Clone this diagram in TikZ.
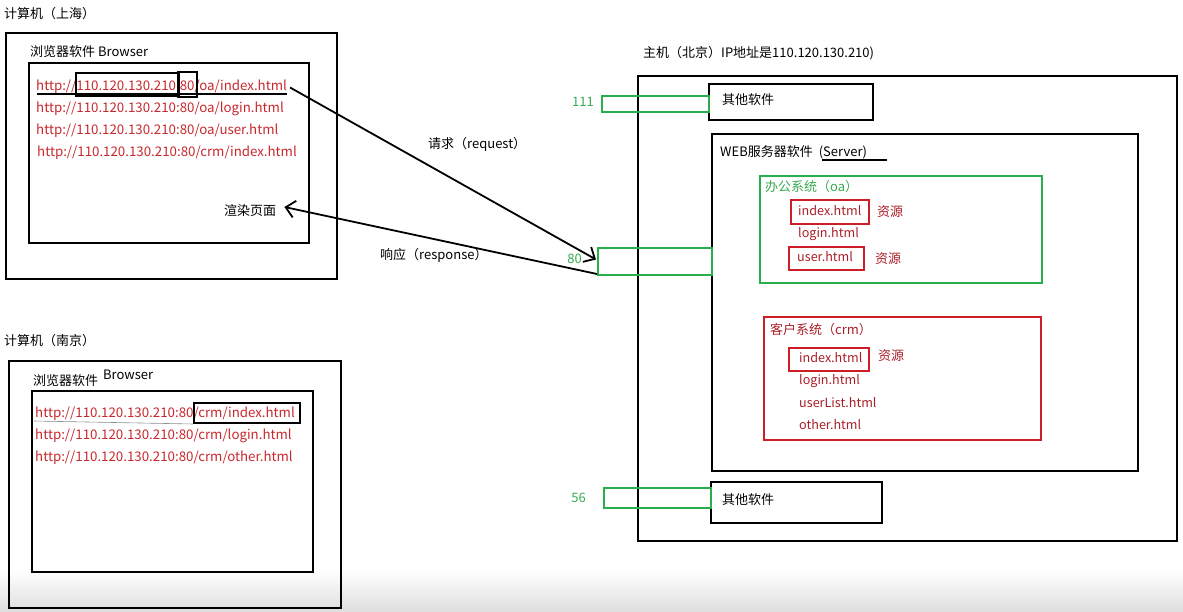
\documentclass[tikz,border=0pt]{standalone}
\usepackage{fontspec}
\setmainfont{Noto Sans CJK SC}
\usetikzlibrary{arrows.meta,calc}
\definecolor{urlred}{RGB}{200,40,45}
\definecolor{fred}{RGB}{170,30,40}
\definecolor{boxred}{RGB}{205,30,40}
\definecolor{pgreen}{RGB}{40,175,75}
\definecolor{tgreen}{RGB}{55,170,80}
\begin{document}
\begin{tikzpicture}[x=1pt,y=-1pt,
  box/.style={draw=black, line width=2pt, anchor=north west, inner sep=0pt},
  gbox/.style={box, draw=pgreen},
  rbox/.style={box, draw=boxred},
  lbl/.style={anchor=west, inner sep=0pt, font=\fontsize{13}{15}\selectfont, text=black},
  url/.style={lbl, font=\fontsize{13.3}{15}\selectfont, text=urlred, yshift=-1.5pt},
  file/.style={lbl, font=\fontsize{12.6}{15}\selectfont, text=fred},
  glbl/.style={lbl, text=tgreen},
  rlbl/.style={lbl, text=fred},
  port/.style={lbl, anchor=east, text=tgreen},
  conn/.style={line width=1.8pt, -{Straight Barb[length=9pt,width=17pt,line width=1.8pt]}}
]
\useasboundingbox (0,0) rectangle (1183,612);
\shade[top color=white, bottom color=black!13, draw=none] (0,570) rectangle (1183,612);

% ---------- Shanghai ----------
\node[lbl] (shT) at (4,14) {计算机（上海）};
\node[box, minimum width=331pt, minimum height=246pt] (shO) at (5,32) {};
\node[lbl] (shB) at (30,52) {浏览器软件 Browser};
\node[box, minimum width=280pt, minimum height=180pt] (shI) at (28,62) {};
\node[url] (u1) at (36,85) {http://110.120.130.210:80/oa/index.html};
\node[url] (u2) at (36,107) {http://110.120.130.210:80/oa/login.html};
\node[url] (u3) at (36,129) {http://110.120.130.210:80/oa/user.html};
\node[url] (u4) at (37,151) {http://110.120.130.210:80/crm/index.html};
\node[box, minimum width=103pt, minimum height=23pt] (ipb) at (75,72) {};
\node[box, minimum width=19pt, minimum height=25pt] (ptb) at (177,71) {};
\draw[line width=2pt] (37,94) coordinate (ul1) -- (287,94) coordinate (ul2);
\node[lbl] (render) at (224,211) {渲染页面};

% ---------- Nanjing ----------
\node[lbl] (njT) at (4,341) {计算机（南京）};
\node[box, minimum width=332pt, minimum height=247pt] (njO) at (8,360) {};
\node[lbl] (njB1) at (33,381) {浏览器软件};
\node[lbl] (njB2) at (103,375) {Browser};
\node[box, minimum width=281pt, minimum height=181pt] (njI) at (31,390) {};
\node[url] (n1) at (35,412) {http://110.120.130.210:80/crm/index.html};
\node[url] (n2) at (35,434) {http://110.120.130.210:80/crm/login.html};
\node[url] (n3) at (35,456) {http://110.120.130.210:80/crm/other.html};
\node[box, minimum width=106pt, minimum height=20pt] (crmb) at (193,402) {};
\draw[line width=0.6pt, black!45] (34,421) coordinate (ul3) -- (crmb.south west);

% ---------- Host ----------
\node[lbl] (hostT) at (643,53) {主机（北京）IP地址是110.120.130.210)};
\node[box, minimum width=539pt, minimum height=465pt] (host) at (637,75) {};
\node[box, minimum width=164pt, minimum height=36pt] (other1) at (708,83) {};
\node[lbl] at (722,100) {其他软件};
\node[gbox, minimum width=107pt, minimum height=16pt] (p111) at (601,95) {};
\node[port] at (594,102) {111};

\node[box, minimum width=426pt, minimum height=337pt] (web) at (711,133) {};
\node[lbl] (webT) at (720,152) {WEB服务器软件\hspace{6pt}(Server)};
\draw[line width=1.6pt] (822,160) coordinate (ul4) -- (887,160) coordinate (ul5);

\node[gbox, minimum width=282pt, minimum height=107pt] (oa) at (759,175) {};
\node[glbl] at (765,187) {办公系统（oa）};
\node[rbox, minimum width=78pt, minimum height=24pt] (oaidx) at (790,199) {};
\node[file] at (798,211) {index.html};
\node[rlbl] at (877,212) {资源};
\node[file] at (798,234) {login.html};
\node[rbox, minimum width=75pt, minimum height=23pt] (oausr) at (788,246) {};
\node[file] at (797,257) {user.html};
\node[rlbl] at (875,259) {资源};

\node[gbox, minimum width=114pt, minimum height=27pt] (p80) at (597,247) {};
\node[port] at (582,259) {80};

\node[rbox, minimum width=277pt, minimum height=123pt] (crm) at (763,316) {};
\node[rlbl] at (770,330) {客户系统（crm）};
\node[rbox, minimum width=80pt, minimum height=23pt] (crmidx) at (788,347) {};
\node[file] at (799,358) {index.html};
\node[rlbl] at (878,356) {资源};
\node[file] at (799,381) {login.html};
\node[file] at (799,403) {userList.html};
\node[file] at (799,425) {other.html};

\node[box, minimum width=171pt, minimum height=41pt] (other2) at (710,481) {};
\node[lbl] at (722,500) {其他软件};
\node[gbox, minimum width=107pt, minimum height=20pt] (p56) at (603,487) {};
\node[port] at (586,498) {56};

% ---------- connectors ----------
\draw[conn] ($(u1.east)+(3,1)$) -- ($(p80.west)+(-1,-2)$);
\draw[conn] ($(p80.south west)+(0,-2)$) -- ($(render.east)+(8,-4)$);
\node[lbl] (req) at (428,144) {请求（request）};
\node[lbl] (resp) at (380,255) {响应（response）};
\end{tikzpicture}
\end{document}
